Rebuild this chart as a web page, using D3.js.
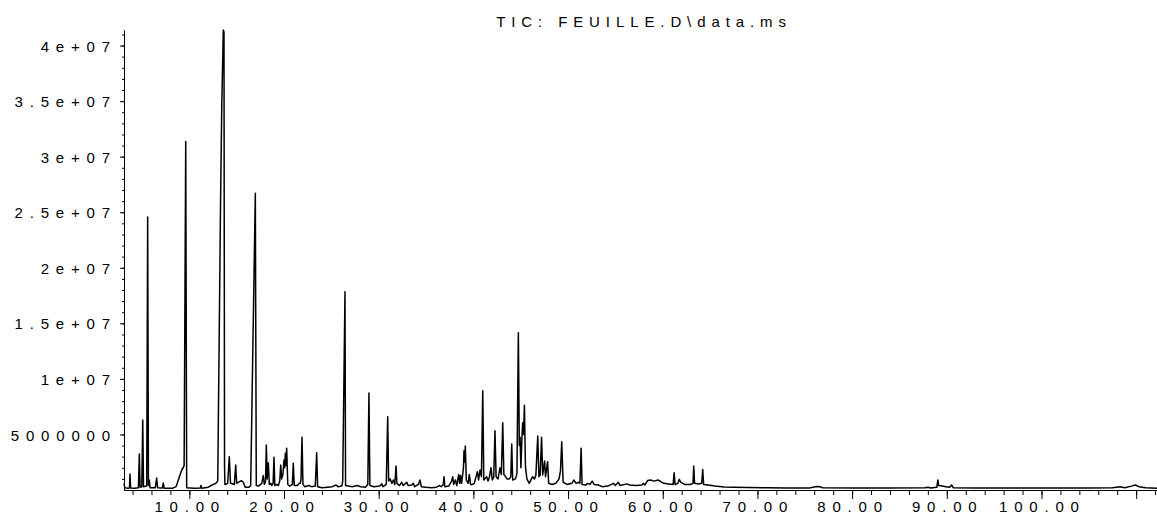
<!DOCTYPE html>
<html>
<head>
    <title>TIC</title>
    <meta charset = "UTF-8">
    <script src="https://d3js.org/d3.v7.min.js"></script>
    <style>
        body { margin: 0; background: #fff; }
        svg text { font-family: "Liberation Sans", Arial, sans-serif; fill: #000; }
    </style>
</head>
<body>
<svg width="1157" height="515"></svg>
<script>
    var width = 1157,
    height = 515

    var title = "TIC: FEUILLE.D\\data.ms"

    // retention time (min), abundance (millions of counts)
    var traceStart = [
        [3.10,0.60],[3.18,0.20],[3.55,0.15],[3.68,0.20],[3.73,1.44],[3.80,0.18],[4.20,0.15],[4.62,0.20],
        [4.72,3.24],[4.80,0.25],[4.98,0.30],[5.08,6.30],[5.16,0.30],[5.50,0.35],[5.60,24.56],[5.68,0.40],
        [5.77,0.90],[5.85,0.20],[6.40,0.20],[6.55,1.08],[6.65,0.20],[7.15,0.18],[7.25,0.63],[7.35,0.15],
        [8.20,0.15],[8.60,0.30],[8.95,1.20],[9.20,1.80],[9.35,2.00],[9.45,2.20],[9.62,31.36],[9.72,0.20],
        [10.50,0.15],[11.15,0.18],[11.23,0.40],[11.32,0.15],[12.00,0.25],[12.40,0.45],[12.80,0.60],
        [13.00,0.80],[13.30,26.10],[13.43,34.80],[13.59,41.40],[13.66,41.20],[13.72,2.00],[13.76,0.50],
        [14.05,0.60],[14.22,3.00],[14.35,0.60],[14.75,0.50],[14.90,2.25],[15.00,0.60],[15.30,0.75],
        [15.50,0.84],[15.70,0.70],[15.90,0.25],[16.30,0.25],[16.48,0.40],[16.97,26.70],[17.07,0.40]
    ]

    var traceMiddle = [
        [17.30,0.35],[17.65,0.60],[17.81,1.30],[17.92,0.50],[18.05,0.80],[18.13,4.05],[18.22,1.00],
        [18.34,2.46],[18.45,0.50],[18.60,0.60],[18.70,0.40],[18.85,0.60],[18.94,2.94],[19.03,0.40],
        [19.25,0.50],[19.40,0.40],[19.55,0.80],[19.65,2.25],[19.75,1.00],[19.88,1.40],[20.00,2.70],
        [20.07,2.00],[20.14,3.30],[20.20,2.20],[20.28,3.75],[20.40,0.50],[20.60,0.35],[20.88,0.50],
        [20.98,2.40],[21.08,0.40],[21.40,0.40],[21.62,0.60],[21.72,0.60],[21.80,1.00],[21.90,4.74],
        [22.00,0.50],[22.20,0.30],[22.60,0.40],[22.90,0.30],[23.30,0.35],[23.45,3.36],[23.55,0.30],
        [24.00,0.20],[24.60,0.25],[25.10,0.30],[25.50,0.45],[25.70,0.30],[26.10,0.35],[26.20,0.80],
        [26.44,17.84],[26.50,0.40],[26.80,0.35],[27.20,0.30],[27.70,0.40],[28.10,0.30],[28.60,0.25],
        [28.85,0.50],[28.97,8.73],[29.07,0.40],[29.50,0.30],[30.10,0.35],[30.32,0.55],[30.45,0.30],
        [30.80,0.50],[30.95,6.60],[31.05,0.80],[31.20,1.00],[31.40,0.60],[31.55,0.90],[31.70,0.50],
        [31.83,2.16],[31.92,0.60],[32.20,0.40],[32.43,0.70],[32.60,0.40],[32.96,0.70],[33.10,0.40],
        [33.50,0.45],[33.66,0.60],[33.80,0.30],[34.20,0.50],[34.36,0.90],[34.50,0.30],[35.00,0.24],
        [35.60,0.20],[36.10,0.25],[36.40,0.40],[36.60,0.30],[36.82,0.50],[36.90,1.20],[36.98,0.30]
    ]

    var traceCluster = [
        [37.40,0.35],[37.70,0.80],[37.82,1.20],[37.92,0.50],[38.10,0.90],[38.25,0.40],[38.45,1.40],
        [38.55,0.60],[38.65,1.30],[38.75,0.60],[38.87,1.40],[38.95,2.00],[39.01,3.54],[39.08,2.50],
        [39.15,3.96],[39.25,0.90],[39.45,0.60],[39.57,1.40],[39.70,0.50],[39.90,0.50],[40.10,0.60],
        [40.28,1.20],[40.42,1.65],[40.55,0.90],[40.70,1.80],[40.85,1.20],[40.99,8.94],[41.10,0.90],
        [41.40,1.20],[41.55,0.80],[41.70,1.20],[41.86,2.00],[42.00,0.90],[42.15,1.20],[42.28,5.34],
        [42.40,1.20],[42.60,1.00],[42.81,2.00],[42.95,1.40],[43.10,6.06],[43.22,1.40],[43.40,1.20],
        [43.55,1.00],[43.80,1.00],[43.95,1.20],[44.05,4.14],[44.15,0.90],[44.45,1.00],[44.60,1.50],
        [44.75,14.16],[44.85,4.00],[44.93,4.74],[45.02,2.00],[45.12,4.50],[45.20,6.06],[45.30,5.00],
        [45.39,7.62],[45.50,2.10],[45.65,1.00],[45.90,0.60],[46.25,1.20],[46.45,1.00],[46.60,1.30],
        [46.80,4.86],[46.92,1.20],[47.05,1.35],[47.20,4.74],[47.32,1.35],[47.52,2.60],[47.62,1.20],
        [47.84,2.55],[47.95,0.60],[48.30,0.50],[48.70,0.60],[49.05,1.00],[49.20,1.74],[49.33,4.35],
        [49.48,0.70],[49.90,0.50],[50.40,0.60],[50.60,0.90],[50.85,0.60],[51.10,0.70],[51.25,0.60],
        [51.38,3.75],[51.48,0.50]
    ]

    var traceEnd = [
        [51.90,0.45],[52.05,0.60],[52.30,0.50],[52.55,0.80],[52.75,0.50],[53.20,0.45],[53.60,0.30],
        [54.20,0.35],[54.80,0.60],[55.00,0.40],[55.30,0.70],[55.50,0.40],[56.20,0.55],[56.50,0.45],
        [57.20,0.40],[57.80,0.45],[57.95,0.60],[58.10,0.45],[58.40,0.85],[58.70,0.90],[59.10,0.80],
        [59.50,0.90],[59.80,0.75],[60.10,0.60],[60.60,0.55],[61.10,0.50],[61.20,1.55],[61.30,0.50],
        [61.60,0.60],[61.75,0.96],[61.90,0.70],[62.30,0.50],[62.90,0.50],[63.20,0.60],[63.27,2.16],
        [63.36,0.60],[63.80,0.55],[64.12,0.60],[64.22,1.85],[64.32,0.50],[64.80,0.45],[65.50,0.35],
        [66.50,0.28],[67.50,0.25],[69.00,0.22],[71.00,0.20],[73.00,0.18],[75.50,0.18],[76.10,0.30],
        [76.50,0.32],[76.90,0.20],[80.00,0.17],[84.00,0.17],[87.70,0.20],[88.00,0.25],[88.30,0.18],
        [88.95,0.25],[89.05,0.90],[89.15,0.40],[89.50,0.35],[89.90,0.30],[90.30,0.25],[90.50,0.45],
        [90.70,0.20],[93.00,0.17],[97.00,0.17],[101.00,0.18],[105.00,0.17],[107.50,0.20],[108.30,0.30],
        [108.80,0.20],[109.50,0.35],[109.90,0.45],[110.30,0.30],[111.00,0.20],[112.20,0.15]
    ]

    var xMajorTicks = [10, 20, 30, 40, 50, 60, 70, 80, 90, 100, 110]
    var xTickLabels = ["10.00", "20.00", "30.00", "40.00", "50.00", "60.00", "70.00", "80.00", "90.00", "100.00", ""]
    var yMajorTicks = [5, 10, 15, 20, 25, 30, 35, 40]
    var yTickLabels = ["5000000", "1e+07", "1.5e+07", "2e+07", "2.5e+07", "3e+07", "3.5e+07", "4e+07"]

    var trace = traceStart.concat(traceMiddle, traceCluster, traceEnd)

    var x = d3.scaleLinear().domain([3.1, 112.2]).range([124, 1157])
    var y = d3.scaleLinear().domain([0, 41.4]).range([490, 30])

    var svg = d3.select("svg")
    var spacing = 6.8

    // x axis: minor every 2 min, major every 10
    var xMinor = d3.range(4, 113, 2)
    svg.append("g")
        .attr("transform", "translate(0,490)")
        .call(d3.axisBottom(x).tickValues(xMinor).tickSize(5).tickSizeOuter(0).tickFormat(""))
    svg.append("g")
        .attr("class", "xmajor")
        .attr("transform", "translate(0,490)")
        .call(d3.axisBottom(x).tickValues(xMajorTicks).tickSize(9).tickSizeOuter(0)
            .tickFormat(function(d, i) { return xTickLabels[i]; }))

    // y axis: minor every 1e6, major every 5e6
    var yMinor = d3.range(1, 42, 1)
    svg.append("g")
        .attr("transform", "translate(124,0)")
        .call(d3.axisLeft(y).tickValues(yMinor).tickSize(2).tickSizeOuter(0).tickFormat(""))
    svg.append("g")
        .attr("class", "ymajor")
        .attr("transform", "translate(124,0)")
        .call(d3.axisLeft(y).tickValues(yMajorTicks).tickSize(4).tickSizeOuter(0)
            .tickFormat(function(d, i) { return yTickLabels[i]; }))

    svg.selectAll(".domain, .tick line").attr("stroke", "#000").attr("stroke-width", 1)

    // letter-spaced labels: place from the start so the anchor does not count trailing spacing
    svg.selectAll(".xmajor text")
        .attr("text-anchor", "start")
        .attr("y", 22).attr("dy", 0)
        .style("font-size", "15px").style("letter-spacing", spacing + "px")
        .attr("x", function() { return -3 - (this.getComputedTextLength() - spacing) / 2; })
    svg.selectAll(".ymajor text")
        .attr("text-anchor", "start")
        .attr("dy", "0.37em")
        .style("font-size", "15px").style("letter-spacing", spacing + "px")
        .attr("x", function() { return -14 - (this.getComputedTextLength() - spacing); })

    svg.append("path")
        .datum(trace)
        .attr("fill", "none")
        .attr("stroke", "#000")
        .attr("stroke-width", 1.5)
        .attr("stroke-linejoin", "round")
        .attr("d", d3.line().x(function(d) { return x(d[0]); }).y(function(d) { return y(d[1]); }))

    svg.append("text")
        .attr("x", 644)
        .attr("y", 27)
        .attr("text-anchor", "middle")
        .style("font-size", "15px")
        .style("letter-spacing", "5.9px")
        .text(title)
</script>
</body>
</html>
